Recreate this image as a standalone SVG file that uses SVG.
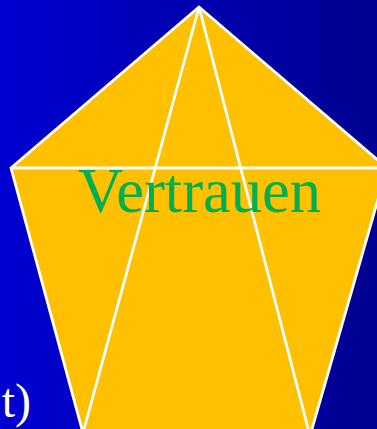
<svg xmlns="http://www.w3.org/2000/svg" width="377" height="429" viewBox="0 0 377 429">
<defs>
<linearGradient id="bg" x1="0" y1="0" x2="1" y2="0">
<stop offset="0" stop-color="#0000D2"/>
<stop offset="1" stop-color="#000090"/>
</linearGradient>
<style>
.edge{stroke:#FFFFFF;stroke-width:2.8;stroke-linejoin:miter}
.line{fill:none}
.shape{fill:#FFC000}
.serif{font-family:"Liberation Serif","Times New Roman",serif}
</style>
</defs>
<rect x="0" y="0" width="377" height="429" fill="url(#bg)"/>
<g id="pentagon">
<polygon points="199,7 387,168 310,436 83,433 11,168" class="edge shape"/>
</g>
<g id="connectors">
<line class="edge line" x1="11" y1="168" x2="387" y2="168"/>
<line class="edge line" x1="199" y1="7" x2="83" y2="433"/>
<line class="edge line" x1="199" y1="7" x2="310" y2="436"/>
</g>
<g id="label">
<text class="serif" x="78" y="212" font-size="62.5" fill="#00B050">Vertrauen</text>
</g>
<g id="fragment">
<text class="serif" x="31" y="417" font-size="48" fill="#FFFFFF" text-anchor="end">t)</text>
</g>
</svg>
